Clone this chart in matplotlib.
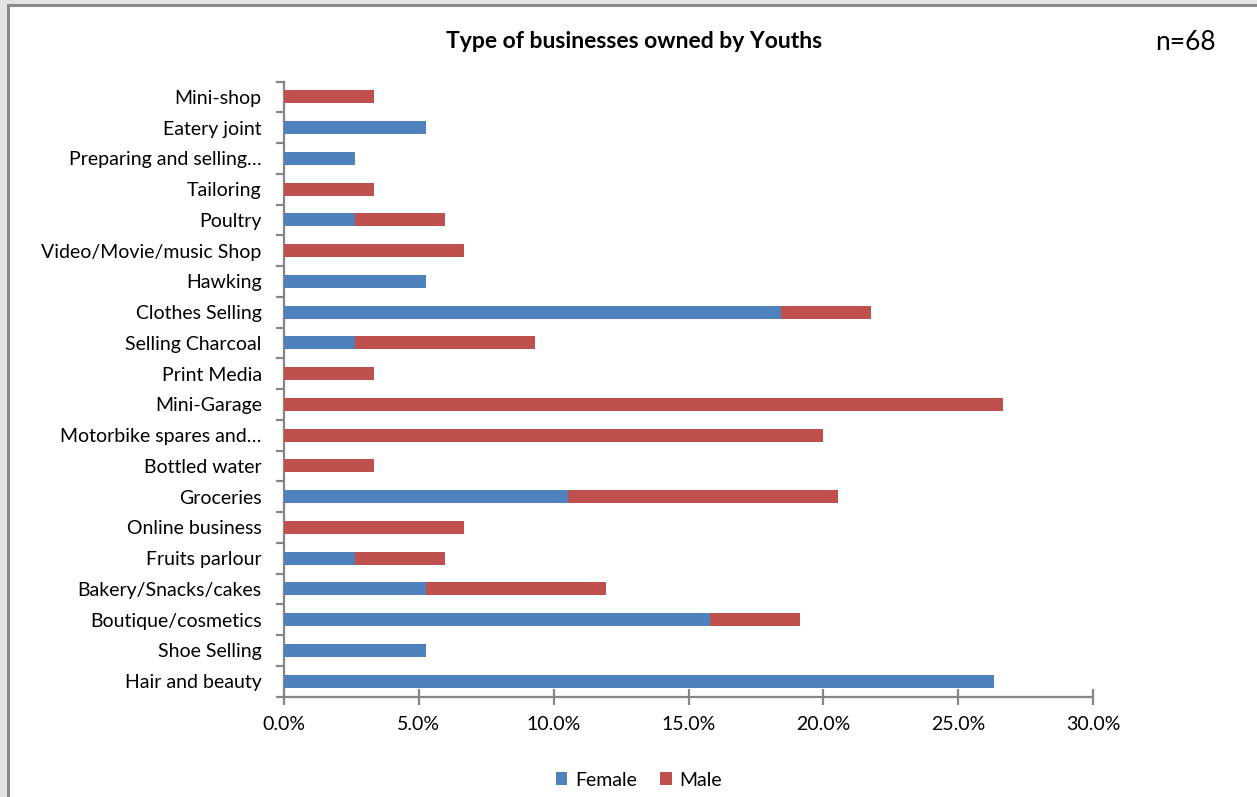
import matplotlib
matplotlib.use("Agg")
import matplotlib.pyplot as plt
from matplotlib.patches import Rectangle
from matplotlib.ticker import FuncFormatter, FixedLocator
import numpy as np

plt.rcParams['font.family'] = ['Lato', 'DejaVu Sans']

categories = [
    "Hair and beauty", "Shoe Selling", "Boutique/cosmetics", "Bakery/Snacks/cakes",
    "Fruits parlour", "Online business", "Groceries", "Bottled water",
    "Motorbike spares and…", "Mini-Garage", "Print Media", "Selling Charcoal",
    "Clothes Selling", "Hawking", "Video/Movie/music Shop", "Poultry",
    "Tailoring", "Preparing and selling…", "Eatery joint", "Mini-shop",
]
female = [26.32, 5.26, 15.79, 5.26, 2.63, 0.0, 10.53, 0.0,
          0.0, 0.0, 0.0, 2.63, 18.42, 5.26, 0.0, 2.63,
          0.0, 2.63, 5.26, 0.0]
male = [0.0, 0.0, 3.33, 6.67, 3.33, 6.67, 10.0, 3.33,
        20.0, 26.67, 3.33, 6.67, 3.33, 0.0, 6.67, 3.33,
        3.33, 0.0, 0.0, 3.33]
series_names = ["Female", "Male"]
series_colors = ["#4F81BD", "#C0504D"]
x_ticks = [0, 5, 10, 15, 20, 25, 30]

W, H = 1257, 797
fig = plt.figure(figsize=(W / 100, H / 100), dpi=100)
fig.patch.set_facecolor("#e4e4e4")

# white chart panel with a grey frame
panel = Rectangle((8 / W, -0.01), 1.0, (797 - 5) / H + 0.01, transform=fig.transFigure,
                  facecolor="white", edgecolor="#8a8a8a", linewidth=2.2, zorder=-5)
fig.patches.append(panel)

ax = fig.add_axes([284 / W, 1 - 696.5 / H, (1093 - 284) / W, (696.5 - 81.5) / H])
ax.set_facecolor("none")
ax.set_zorder(2)

y = np.arange(len(categories))
bh = 0.42
ax.barh(y, female, height=bh, color=series_colors[0], label=series_names[0], zorder=3)
ax.barh(y, male, left=female, height=bh, color=series_colors[1], label=series_names[1], zorder=3)

ax.set_xlim(0, 30)
ax.set_ylim(-0.5, len(categories) - 0.5)
ax.set_xticks(x_ticks)
ax.xaxis.set_major_formatter(FuncFormatter(lambda v, p: f"{v:.1f}%"))
ax.set_yticks(y)
ax.set_yticklabels(categories)
ax.yaxis.set_minor_locator(FixedLocator(np.arange(-0.5, len(categories), 1.0)))

grey = "#868686"
for s in ["top", "right"]:
    ax.spines[s].set_visible(False)
for s in ["left", "bottom"]:
    ax.spines[s].set_color(grey)
    ax.spines[s].set_linewidth(1.6)

ax.tick_params(axis="y", which="major", length=0, pad=16, labelsize=14, labelcolor="black")
ax.tick_params(axis="y", which="minor", length=6, width=1.6, color=grey, direction="out")
ax.tick_params(axis="x", which="major", length=12, width=1.6, color=grey, direction="inout",
               pad=8, labelsize=14, labelcolor="black")

fig.text(634 / W, 1 - 42 / H, "Type of businesses owned by Youths", ha="center", va="center",
         fontsize=16.5, fontweight="bold")
fig.text(1185 / W, 1 - 42 / H, "n=68", ha="center", va="center", fontsize=19)

fig.legend(loc="center", bbox_to_anchor=(639 / W, 1 - 780 / H), ncol=2, frameon=False,
           fontsize=14, handlelength=0.6, handleheight=0.6, handletextpad=0.4, columnspacing=1.2)

fig.savefig("out.png", dpi=100, facecolor=fig.get_facecolor())
